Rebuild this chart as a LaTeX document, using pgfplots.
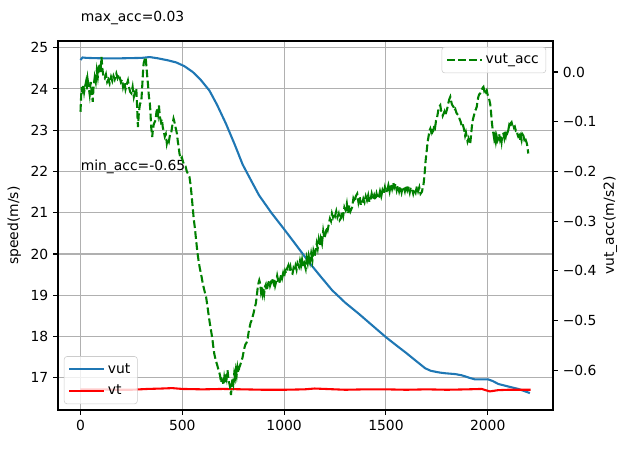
\documentclass[border=0pt]{standalone}
\usepackage{fontspec}
\setmainfont{DejaVu Sans}
\usepackage{pgfplots}
\pgfplotsset{compat=1.18}
\definecolor{cblue}{HTML}{1F77B4}
\definecolor{cgreen}{HTML}{008000}
\pgfplotsset{
  common/.style={
    width=356.4pt, height=265.7pt, scale only axis,
    at={(0,0)}, anchor=south west,
    xmin=-110.5, xmax=2320.5,
    tick align=outside, major tick length=3.5pt,
    every tick/.style={black, line width=0.8pt},
    axis line style={line width=0.8pt},
    tick label style={font=\fontsize{10}{12}\selectfont},
    label style={font=\fontsize{10}{12}\selectfont},
    /pgf/number format/assume math mode=true,
    /pgf/number format/1000 sep={},
    legend image code/.code={\draw[#1] (0pt,0pt) -- (21pt,0pt); \path (0pt,0pt) -- (25pt,0pt);},
    legend cell align=left,
    clip mode=individual,
  }
}
\begin{document}
\begin{tikzpicture}
\useasboundingbox (-41.76pt,-38.16pt) rectangle (408.96pt,295.2pt);
\begin{axis}[common,
  ymin=16.22, ymax=25.16,
  xtick={0,500,1000,1500,2000},
  ytick={17,18,19,20,21,22,23,24,25},
  xtick pos=lower, ytick pos=left,
  xmajorgrids, ymajorgrids,
  grid style={color=black!31, line width=0.8pt},
  ylabel={speed(m/s)},
  legend style={at={(0.012,0.016)}, anchor=south west, draw=black!20, rounded corners=2pt,
    fill=white, fill opacity=0.8, text opacity=1, font=\fontsize{10}{12}\selectfont,
    row sep=3pt, inner xsep=3pt, inner ysep=3pt},
]
\addplot[cblue, line width=1.5pt] coordinates {
(0,24.70) (10,24.76) (30,24.75) (100,24.74) (200,24.74) (300,24.75) (340,24.77) (380,24.74)
(430,24.69) (470,24.64) (510,24.55) (551,24.41) (590,24.22) (633,23.96) (670,23.62) (714,23.16)
(760,22.62) (796,22.17) (840,21.76) (877,21.42) (937,21.00) (1000,20.60) (1060,20.21) (1122,19.80)
(1180,19.45) (1236,19.12) (1300,18.82) (1367,18.55) (1435,18.26) (1501,17.98) (1550,17.79)
(1600,17.60) (1650,17.40) (1693,17.23) (1720,17.17) (1760,17.13) (1791,17.11) (1840,17.09)
(1873,17.06) (1910,17.00) (1938,16.96) (2003,16.96) (2025,16.92) (2052,16.85) (2100,16.79)
(2150,16.73) (2207,16.63)
};
\addlegendentry{vut}
\addplot[red, line width=1.5pt] coordinates {
(0,16.72) (100,16.72) (180,16.71) (250,16.71) (330,16.73) (400,16.74) (450,16.75) (500,16.73)
(600,16.72) (700,16.73) (800,16.72) (900,16.71) (1000,16.71) (1100,16.72) (1150,16.74)
(1200,16.73) (1300,16.71) (1400,16.72) (1500,16.72) (1600,16.71) (1700,16.72) (1800,16.71)
(1900,16.72) (1970,16.73) (2010,16.67) (2050,16.70) (2100,16.71) (2210,16.71)
};
\addlegendentry{vt}
\node[anchor=base west, inner sep=0pt, font=\fontsize{10}{12}\selectfont] at (axis cs:0,25.64) {max\_acc=0.03};
\node[anchor=base west, inner sep=0pt, font=\fontsize{10}{12}\selectfont] at (axis cs:0,22.02) {min\_acc=-0.65};
\end{axis}
\begin{axis}[common,
  ymin=-0.680, ymax=0.0624,
  xtick=\empty, ytick pos=right,
  ytick={-0.6,-0.5,-0.4,-0.3,-0.2,-0.1,0},
  yticklabels={−0.6,−0.5,−0.4,−0.3,−0.2,−0.1,0.0},
  ylabel={vut\_acc(m/s2)}, ylabel near ticks, yticklabel pos=right,
  ylabel shift=-2pt,
  legend style={at={(0.986,0.984)}, anchor=north east, draw=black!20, rounded corners=2pt,
    fill=white, fill opacity=0.8, text opacity=1, font=\fontsize{10}{12}\selectfont,
    inner xsep=3pt, inner ysep=3pt},
]
\addplot[cgreen, line width=1.5pt, dash pattern=on 5.55pt off 2.4pt] coordinates {
(0,-0.080) (3,-0.050) (6,-0.030) (10,-0.045) (14,-0.025) (18,-0.040) (22,-0.030) (27,-0.020)
(31,-0.035) (35,-0.015) (40,-0.030) (45,-0.045) (50,-0.020) (55,-0.040) (60,-0.060) (64,-0.030)
(70,-0.010) (75,-0.020) (80,0.003) (85,-0.010) (90,0.010) (94,0.017) (98,0.000) (103,0.030)
(108,0.005) (113,-0.010) (119,-0.013) (125,-0.005) (131,-0.020) (137,-0.015) (143,-0.023)
(150,-0.010) (156,-0.018) (162,-0.008) (168,-0.015) (176,-0.003) (182,-0.012) (188,-0.005)
(192,-0.010) (198,-0.020) (204,-0.015) (209,-0.030) (215,-0.020) (221,-0.035) (227,-0.025)
(233,-0.017) (238,-0.030) (244,-0.040) (250,-0.043) (256,-0.030) (262,-0.050) (268,-0.040)
(274,-0.033) (278,-0.070) (282,-0.111) (287,-0.080) (292,-0.065) (299,-0.057) (303,-0.030)
(307,0.000) (310,0.017) (315,0.025) (320,0.030) (324,0.010) (328,-0.010) (331,-0.023)
(336,-0.050) (340,-0.060) (343,-0.077) (347,-0.110) (352,-0.131) (356,-0.115) (360,-0.105)
(365,-0.100) (369,-0.097) (373,-0.080) (377,-0.075) (381,-0.085) (385,-0.067) (390,-0.090)
(395,-0.100) (400,-0.095) (404,-0.111) (409,-0.120) (414,-0.130) (419,-0.125) (424,-0.144)
(429,-0.135) (434,-0.140) (440,-0.125) (445,-0.124) (450,-0.110) (454,-0.100) (457,-0.094)
(461,-0.100) (466,-0.110) (470,-0.117) (474,-0.125) (478,-0.140) (482,-0.150) (486,-0.164)
(492,-0.175) (498,-0.172) (503,-0.180) (510,-0.188) (516,-0.190) (522,-0.200) (528,-0.205)
(535,-0.211) (540,-0.225) (545,-0.245) (551,-0.272) (556,-0.295) (562,-0.315) (568,-0.339)
(574,-0.362) (580,-0.380) (586,-0.395) (592,-0.406) (598,-0.420) (604,-0.432) (610,-0.442)
(617,-0.453) (623,-0.470) (629,-0.488) (635,-0.505) (641,-0.520) (647,-0.535) (652,-0.552)
(657,-0.567) (663,-0.578) (668,-0.585) (673,-0.592) (678,-0.600) (682,-0.605) (686,-0.612)
(690,-0.625) (694,-0.618) (698,-0.620) (702,-0.630) (706,-0.615) (710,-0.625) (714,-0.605)
(718,-0.615) (722,-0.600) (726,-0.615) (730,-0.625) (734,-0.632) (739,-0.650) (743,-0.630)
(747,-0.615) (751,-0.625) (755,-0.607) (759,-0.615) (763,-0.600) (767,-0.610) (771,-0.595)
(775,-0.605) (780,-0.594) (784,-0.590) (788,-0.585) (792,-0.580) (796,-0.574) (800,-0.565)
(805,-0.555) (810,-0.548) (815,-0.545) (820,-0.540) (825,-0.525) (830,-0.515) (835,-0.505)
(840,-0.500) (845,-0.493) (850,-0.485) (855,-0.475) (861,-0.466) (866,-0.450) (870,-0.435)
(874,-0.425) (878,-0.419) (882,-0.425) (886,-0.440) (890,-0.430) (894,-0.445) (898,-0.435)
(902,-0.446) (906,-0.432) (910,-0.428) (914,-0.440) (918,-0.433) (922,-0.425) (927,-0.420)
(931,-0.430) (935,-0.425) (939,-0.415) (943,-0.419) (948,-0.425) (952,-0.418) (956,-0.430)
(961,-0.422) (966,-0.410) (971,-0.420) (976,-0.426) (980,-0.418) (985,-0.408) (990,-0.415)
(995,-0.405) (1000,-0.413) (1005,-0.400) (1010,-0.405) (1015,-0.395) (1021,-0.389) (1026,-0.400)
(1031,-0.392) (1036,-0.405) (1041,-0.406) (1046,-0.395) (1051,-0.400) (1056,-0.390) (1061,-0.398)
(1066,-0.385) (1073,-0.392) (1078,-0.380) (1083,-0.390) (1088,-0.378) (1093,-0.392) (1099,-0.385)
(1106,-0.396) (1111,-0.375) (1116,-0.385) (1121,-0.370) (1127,-0.382) (1133,-0.365) (1139,-0.379)
(1144,-0.360) (1150,-0.370) (1155,-0.359) (1160,-0.345) (1165,-0.355) (1170,-0.338) (1175,-0.350)
(1180,-0.335) (1186,-0.345) (1192,-0.320) (1198,-0.335) (1204,-0.325) (1209,-0.312) (1214,-0.318)
(1220,-0.305) (1225,-0.295) (1230,-0.300) (1235,-0.285) (1240,-0.292) (1245,-0.285) (1250,-0.290)
(1256,-0.280) (1262,-0.292) (1268,-0.285) (1273,-0.298) (1278,-0.295) (1284,-0.280) (1290,-0.290)
(1296,-0.272) (1302,-0.278) (1308,-0.265) (1314,-0.285) (1320,-0.268) (1326,-0.280) (1334,-0.272)
(1340,-0.255) (1346,-0.262) (1352,-0.250) (1359,-0.245) (1365,-0.262) (1371,-0.250) (1377,-0.268)
(1383,-0.265) (1389,-0.255) (1395,-0.262) (1401,-0.250) (1407,-0.258) (1413,-0.248) (1419,-0.262)
(1424,-0.258) (1430,-0.245) (1436,-0.255) (1442,-0.248) (1448,-0.258) (1454,-0.245) (1460,-0.255)
(1465,-0.252) (1471,-0.240) (1477,-0.250) (1483,-0.238) (1489,-0.245) (1495,-0.232) (1501,-0.242)
(1506,-0.238) (1512,-0.228) (1518,-0.240) (1524,-0.225) (1530,-0.235) (1536,-0.222) (1541,-0.232)
(1547,-0.225) (1553,-0.238) (1559,-0.228) (1565,-0.240) (1571,-0.230) (1577,-0.242) (1582,-0.232)
(1587,-0.231) (1593,-0.240) (1599,-0.228) (1605,-0.238) (1611,-0.230) (1617,-0.242) (1622,-0.232)
(1628,-0.235) (1634,-0.245) (1640,-0.235) (1646,-0.242) (1652,-0.230) (1658,-0.240) (1664,-0.232)
(1670,-0.245) (1677,-0.241) (1681,-0.232) (1685,-0.225) (1690,-0.205) (1695,-0.178) (1700,-0.160)
(1705,-0.140) (1710,-0.128) (1714,-0.118) (1718,-0.114) (1722,-0.120) (1726,-0.112) (1730,-0.120)
(1734,-0.117) (1738,-0.105) (1742,-0.110) (1746,-0.098) (1750,-0.094) (1754,-0.085) (1758,-0.075)
(1762,-0.070) (1767,-0.067) (1771,-0.078) (1775,-0.080) (1779,-0.088) (1783,-0.084) (1787,-0.080)
(1791,-0.088) (1795,-0.082) (1799,-0.077) (1803,-0.070) (1807,-0.062) (1811,-0.055) (1816,-0.050)
(1820,-0.058) (1824,-0.065) (1828,-0.068) (1832,-0.070) (1836,-0.078) (1841,-0.075) (1846,-0.082)
(1851,-0.085) (1857,-0.087) (1862,-0.095) (1867,-0.100) (1872,-0.108) (1876,-0.104) (1881,-0.111)
(1885,-0.118) (1889,-0.128) (1893,-0.122) (1897,-0.131) (1901,-0.140) (1905,-0.135) (1909,-0.145)
(1914,-0.144) (1918,-0.128) (1922,-0.110) (1926,-0.098) (1930,-0.091) (1934,-0.085) (1938,-0.078)
(1942,-0.075) (1946,-0.070) (1950,-0.058) (1954,-0.050) (1958,-0.045) (1963,-0.043) (1967,-0.040)
(1971,-0.035) (1975,-0.032) (1979,-0.030) (1983,-0.038) (1987,-0.035) (1991,-0.040) (1995,-0.037)
(1999,-0.045) (2003,-0.050) (2007,-0.055) (2012,-0.064) (2016,-0.080) (2020,-0.100) (2024,-0.115)
(2028,-0.124) (2032,-0.135) (2036,-0.128) (2040,-0.140) (2044,-0.130) (2048,-0.138) (2052,-0.134)
(2056,-0.125) (2060,-0.135) (2064,-0.128) (2068,-0.140) (2072,-0.125) (2077,-0.124) (2081,-0.132)
(2085,-0.120) (2089,-0.128) (2093,-0.118) (2097,-0.122) (2101,-0.117) (2105,-0.108) (2109,-0.112)
(2113,-0.103) (2117,-0.101) (2121,-0.108) (2125,-0.105) (2129,-0.112) (2133,-0.110) (2138,-0.118)
(2142,-0.117) (2146,-0.125) (2150,-0.130) (2154,-0.128) (2158,-0.138) (2162,-0.130) (2166,-0.137)
(2170,-0.125) (2175,-0.128) (2179,-0.135) (2183,-0.131) (2187,-0.138) (2191,-0.142) (2195,-0.150)
(2199,-0.164)
};
\addlegendentry{vut\_acc}
\end{axis}
\end{tikzpicture}
\end{document}
